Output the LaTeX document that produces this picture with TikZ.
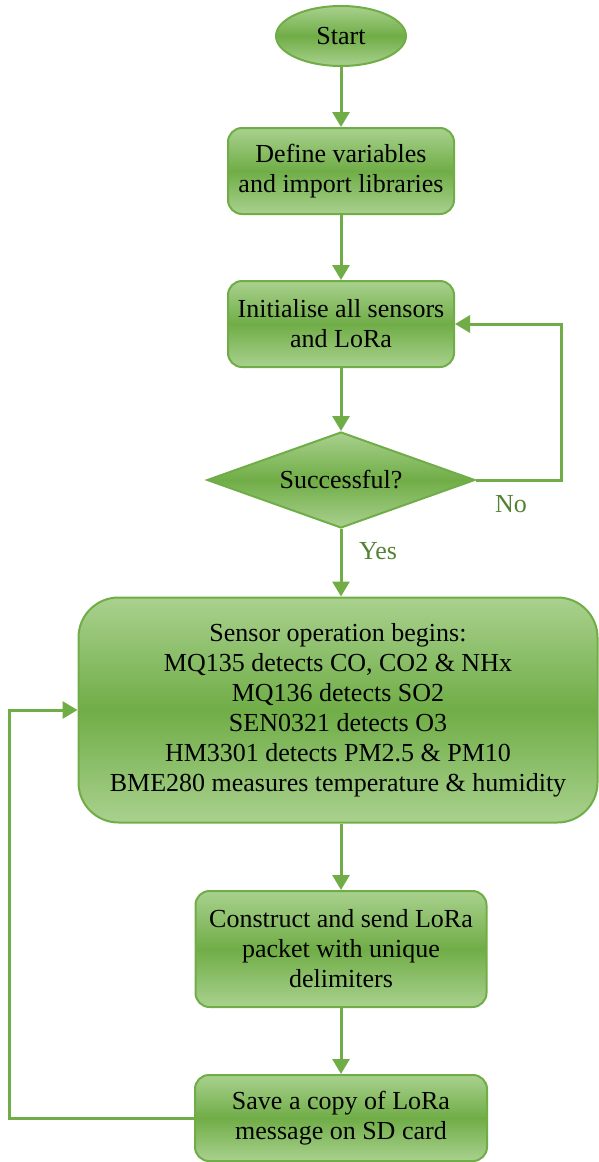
\documentclass[tikz,border=0pt]{standalone}
\usepackage{fontspec}
\setmainfont{Liberation Serif}
\usepackage{tikz}
\usetikzlibrary{shapes.geometric, arrows.meta}
\usetikzlibrary{positioning,calc}

\definecolor{leafDark}{HTML}{70AD47}
\definecolor{leafLight}{HTML}{A9D18E}
\definecolor{leafText}{HTML}{548235}

\begin{document}
\begin{tikzpicture}[
  x=1pt, y=1pt,
  font=\fontsize{26}{30}\selectfont,
  leafshade/.style={top color=leafLight, bottom color=leafLight, middle color=leafDark, draw=leafDark, line width=2pt},
  flow/.style={draw=leafDark, line width=3pt, -{Triangle[width=17pt,length=15pt]}}
]
	\tikzstyle{startstop} = [ellipse, leafshade, minimum width=130pt, minimum height=60pt, inner sep=0pt]
	\tikzstyle{process} = [rectangle, rounded corners=14pt, leafshade, minimum width=226pt, minimum height=86pt, align=center, inner sep=0pt]
	\tikzstyle{decision} = [diamond, leafshade, minimum width=268pt, minimum height=96pt, aspect=2.8, inner sep=0pt]
	\tikzstyle{operation} = [rectangle, rounded corners=40pt, leafshade, minimum width=519pt, minimum height=225pt, align=center, inner sep=0pt]
	\tikzstyle{sending} = [rectangle, rounded corners=14pt, leafshade, minimum width=291pt, minimum height=116pt, align=center, inner sep=0pt]
	\tikzstyle{saving} = [rectangle, rounded corners=14pt, leafshade, minimum width=292pt, minimum height=86pt, align=center, inner sep=0pt]
	\tikzstyle{answer} = [text=leafText]

	\useasboundingbox (0,0) rectangle (598,-1162);

	\node (start) [startstop] at (341,-36) {Start};
	\node (define) [process, below of=start, node distance=135pt] {Define variables\\and import libraries};
	\node (init) [process, below of=define, node distance=153pt] {Initialise all sensors\\and LoRa};
	\node (success) [decision, below of=init, node distance=156pt] {Successful?};
	\node (sensor) [operation, below of=success, node distance=230pt, xshift=-3pt] {Sensor operation begins:\\MQ135 detects CO, CO2 \& NHx\\MQ136 detects SO2\\SEN0321 detects O3\\HM3301 detects PM2.5 \& PM10\\BME280 measures temperature \& humidity};
	\node (packet) [sending, below of=success, node distance=469pt] {Construct and send LoRa\\packet with unique\\delimiters};
	\node (save) [saving, below of=packet, node distance=169pt] {Save a copy of LoRa\\message on SD card};

	\coordinate (noCorner) at ($(success.east)+(85,0)$);
	\coordinate (loopCorner) at ($(save.west)+(-185,0)$);

	\draw[flow] (start) -- (define);
	\draw[flow] (define) -- (init);
	\draw[flow] (init) -- (success);
	\draw[flow] (success) -- (success |- sensor.north);
	\draw[flow] (success.east) -- (noCorner) |- (init.east);
	\draw[flow] (packet.north |- sensor.south) -- (packet);
	\draw[flow] (packet) -- (save);
	\draw[flow] (save.west) -- (loopCorner) |- (sensor.west);

	\node[answer] (yesLabel) at (378,-551) {Yes};
	\node[answer] (noLabel) at (511,-504) {No};
\end{tikzpicture}
\end{document}
